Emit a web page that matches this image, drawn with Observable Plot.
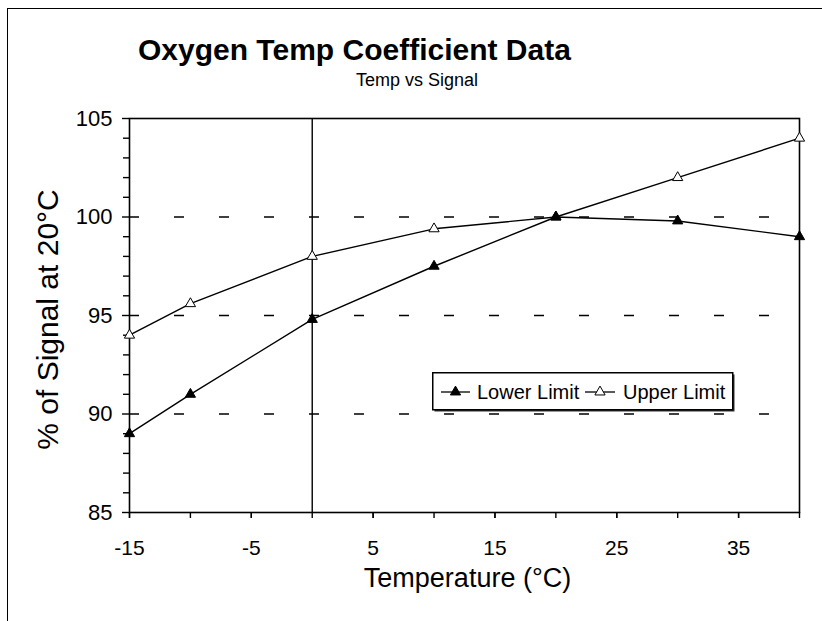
<!DOCTYPE html>
<html><head><meta charset="utf-8">
<script src="https://cdn.jsdelivr.net/npm/d3@7"></script>
<script src="https://cdn.jsdelivr.net/npm/@observablehq/plot@0.6"></script>
<style>
body{margin:0;background:#fff;font-family:"Liberation Sans",Arial,sans-serif;}
#wrap{position:relative;width:822px;height:621px;overflow:hidden;background:#fff;}
#border{position:absolute;left:7px;top:8px;width:900px;height:700px;border-left:1.5px solid #000;border-top:1.5px solid #000;pointer-events:none;}
#header{position:absolute;left:0;top:0;}
#chart{position:absolute;left:0;top:100px;}
#legend{position:absolute;left:432px;top:372px;}
</style></head><body>
<div id="wrap">
  <svg id="header" width="822" height="100">
    <text x="138" y="60" font-size="30" font-weight="bold" font-family="Liberation Sans, Arial, sans-serif">Oxygen Temp Coefficient Data</text>
    <text x="356" y="86" font-size="18" font-family="Liberation Sans, Arial, sans-serif">Temp vs Signal</text>
  </svg>
  <div id="chart"></div>
  <div id="legend"></div>
  <div id="border"></div>
</div>
<script>
const temps = [-15, -10, 0, 10, 20, 30, 40];
const lowerLimit = [89, 91, 94.8, 97.5, 100, 99.8, 99];
const upperLimit = [94, 95.6, 98, 99.4, 100, 102, 104];
const seriesNames = ["Lower Limit", "Upper Limit"];
const xTickValues = [-15, -10, -5, 0, 5, 10, 15, 20, 25, 30, 35, 40];
const xTickLabels = [-15, -5, 5, 15, 25, 35];
const yTickLabels = [85, 90, 95, 100, 105];
const yMinorTicks = [86, 87, 88, 89, 91, 92, 93, 94, 96, 97, 98, 99, 101, 102, 103, 104];
const gridValues = [90, 95, 100];
const xTitle = "Temperature (°C)";
const yTitle = "% of Signal at 20°C";

const lowerData = temps.map((t, i) => ({t, v: lowerLimit[i], s: seriesNames[0]}));
const upperData = temps.map((t, i) => ({t, v: upperLimit[i], s: seriesNames[1]}));

const fmt = d => String(d);
const R = 3.8;
const chart = Plot.plot({
  width: 822,
  height: 521,
  marginLeft: 129,
  marginRight: 23,
  marginTop: 18,
  marginBottom: 109,
  style: {fontFamily: "Liberation Sans, Arial, sans-serif", color: "#000", background: "#fff", overflow: "visible"},
  x: {domain: [-15, 40]},
  y: {domain: [85, 105]},
  marks: [
    Plot.ruleY(gridValues, {stroke: "#000", strokeWidth: 1.6, strokeDasharray: "10,35"}),
    Plot.ruleX([0], {stroke: "#000", strokeWidth: 1.4}),
    Plot.frame({stroke: "#000", strokeWidth: 1.6}),
    Plot.axisY({ticks: yMinorTicks, tickSize: 6, text: null, label: null, strokeWidth: 1.4}),
    Plot.axisY({ticks: yTickLabels, tickSize: 7, tickPadding: 10, fontSize: 22, strokeWidth: 1.4, label: null, tickFormat: fmt}),
    Plot.axisX({ticks: xTickValues, tickSize: 6, text: null, label: null, strokeWidth: 1.4}),
    Plot.axisX({ticks: xTickLabels, tickSize: 6, tickPadding: 22, fontSize: 21, strokeWidth: 1.4, label: null, tickFormat: fmt}),
    Plot.line(upperData, {x: "t", y: "v", stroke: "#000", strokeWidth: 1.4}),
    Plot.line(lowerData, {x: "t", y: "v", stroke: "#000", strokeWidth: 1.4}),
    Plot.dot(upperData, {x: "t", y: "v", symbol: "triangle", r: R, fill: "#fff", stroke: "#000", strokeWidth: 1}),
    Plot.dot(lowerData, {x: "t", y: "v", symbol: "triangle", r: R, fill: "#000", stroke: "#000", strokeWidth: 1}),
    Plot.text([xTitle], {frameAnchor: "bottom", dx: 3, dy: 55, lineAnchor: "top", fontSize: 27, fill: "#000"}),
    Plot.text([yTitle], {frameAnchor: "left", dx: -81, dy: 4, rotate: -90, textAnchor: "middle", lineAnchor: "middle", fontSize: 30, fill: "#000"})
  ]
});
document.getElementById("chart").appendChild(chart);

// legend
const tri = d3.symbol(d3.symbolTriangle, Math.PI * R * R)();
const lg = d3.select("#legend").append("svg").attr("width", 306).attr("height", 42)
  .style("font-family", "Liberation Sans, Arial, sans-serif");
lg.append("rect").attr("x", 2.5).attr("y", 2.5).attr("width", 300).attr("height", 37).attr("fill", "#333");
lg.append("rect").attr("x", 0.75).attr("y", 0.75).attr("width", 300).attr("height", 37).attr("fill", "#fff").attr("stroke", "#000").attr("stroke-width", 1.5);
const items = [
  {name: seriesNames[0], fill: "#000", x0: 9, x1: 38, tx: 45},
  {name: seriesNames[1], fill: "#fff", x0: 153, x1: 183, tx: 191}
];
items.forEach(it => {
  lg.append("line").attr("x1", it.x0).attr("x2", it.x1).attr("y1", 20).attr("y2", 20).attr("stroke", "#000").attr("stroke-width", 1.3);
  lg.append("path").attr("d", tri).attr("transform", `translate(${(it.x0 + it.x1) / 2},20)`).attr("fill", it.fill).attr("stroke", "#000");
  lg.append("text").attr("x", it.tx).attr("y", 27).attr("font-size", 20).text(it.name);
});
</script>
</body></html>
